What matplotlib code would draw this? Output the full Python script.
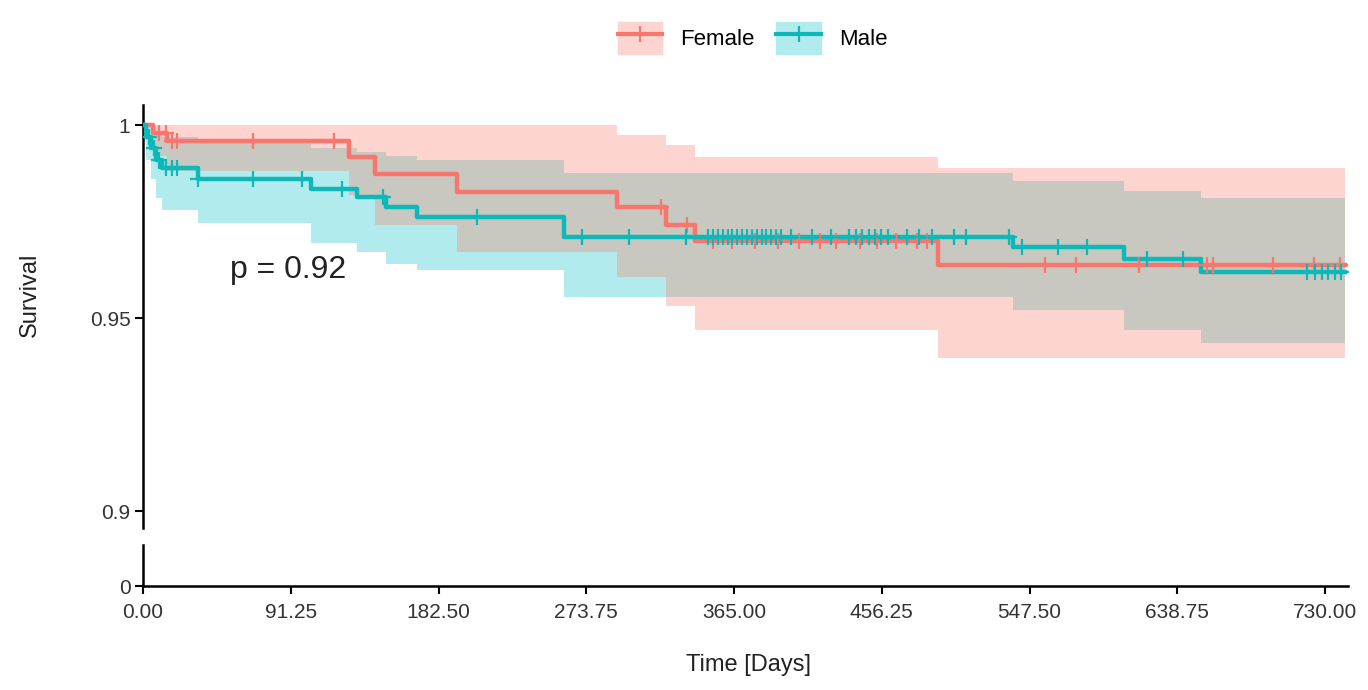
import matplotlib
matplotlib.use('Agg')
import matplotlib.pyplot as plt
from matplotlib.patches import Patch
from matplotlib.lines import Line2D
from matplotlib.legend_handler import HandlerTuple
import numpy as np

plt.rcParams['font.family'] = ['Liberation Sans', 'DejaVu Sans']

# Kaplan-Meier steps
t_end = 742
f_t = [0, 6, 15, 127, 143, 194, 293, 323, 341, 491]
f_s = [1.0, 0.998, 0.996, 0.9918, 0.9873, 0.9827, 0.9787, 0.974, 0.970, 0.9637]
f_up = [1.0, 1.0, 1.0, 1.0, 1.0, 1.0, 0.9974, 0.9948, 0.9917, 0.9889]
f_lo = [1.0, 0.992, 0.988, 0.982, 0.974, 0.967, 0.9606, 0.953, 0.947, 0.9396]

m_t = [0, 2, 5, 8, 12, 34, 104, 132, 150, 169, 260, 537, 606, 653]
m_s = [1.0, 0.997, 0.994, 0.991, 0.9889, 0.986, 0.9834, 0.9814, 0.9788, 0.9761,
       0.9711, 0.9685, 0.9653, 0.962]
m_up = [1.0, 1.0, 0.999, 0.998, 0.997, 0.9955, 0.994, 0.993, 0.992, 0.991,
        0.9877, 0.9855, 0.983, 0.981]
m_lo = [1.0, 0.991, 0.986, 0.981, 0.978, 0.9746, 0.9694, 0.967, 0.964, 0.9624,
        0.9555, 0.952, 0.947, 0.9435]

# censoring times
f_cens = [10, 14, 18, 21, 68, 118, 320, 336, 352, 364, 378, 392, 405, 418, 428,
          443, 453, 465, 478, 484, 557, 576, 615, 657, 661, 698, 723, 739]
m_cens = [4, 7, 10, 14, 18, 21, 34, 68, 98, 123, 148, 206, 271, 300, 335,
          349, 352, 355, 358, 361, 364, 367, 370, 373, 376, 379, 382, 385, 388,
          391, 394, 400, 413, 425, 436, 440, 444, 448, 452, 456, 460, 472, 479,
          487, 501, 508, 535, 543, 565, 583, 620, 642, 719, 724, 728, 732, 736, 740]

x_ticks = [0, 91.25, 182.5, 273.75, 365, 456.25, 547.5, 638.75, 730]
p_text = 'p = 0.92'

red = '#F8766D'
teal = '#0DB9B8'
pink_fill = '#FDD4D0'
teal_fill = '#B2EBED'
over_fill = '#C8C8C0'


def ext(t, v):
    return np.append(t, t_end), np.append(v, v[-1])


def at(t, v, q):
    idx = np.searchsorted(t, q, side='right') - 1
    return np.asarray(v)[idx]


fig = plt.figure(figsize=(13.68, 6.9), dpi=100)
ax = fig.add_axes([0.1045, 0.2348, 0.8808, 0.613])
ax2 = fig.add_axes([0.1045, 0.1507, 0.8808, 0.0594], sharex=ax)

# confidence bands
tt, lo = ext(f_t, f_lo)
_, up = ext(f_t, f_up)
ax.fill_between(tt, lo, up, step='post', color=pink_fill, lw=0)
tt, lo = ext(m_t, m_lo)
_, up = ext(m_t, m_up)
ax.fill_between(tt, lo, up, step='post', color=teal_fill, lw=0)

# overlap of the two bands
grid = np.union1d(f_t, m_t)
ov_lo = np.maximum(at(f_t, f_lo, grid), at(m_t, m_lo, grid))
ov_up = np.minimum(at(f_t, f_up, grid), at(m_t, m_up, grid))
ov_up = np.maximum(ov_up, ov_lo)
g, ol = ext(grid, ov_lo)
_, ou = ext(grid, ov_up)
ax.fill_between(g, ol, ou, step='post', color=over_fill, lw=0)

# curves
for t, s, cens, c in [(f_t, f_s, f_cens, red), (m_t, m_s, m_cens, teal)]:
    tt, ss = ext(t, s)
    ax.step(tt, ss, where='post', color=c, lw=3.2, zorder=3)
    ax.plot(cens, at(t, s, cens), ls='none', marker='+', ms=11, mew=1.6,
            color=c, zorder=4)

ax.text(54, 0.9624, p_text, fontsize=23, ha='left', va='center', color='#222222')

ax.set_xlim(0, 744)
ax.set_ylim(0.8956, 1.0052)
ax.set_yticks([0.9, 0.95, 1])
ax.set_yticklabels(['0.9', '0.95', '1'])
ax2.set_ylim(0, 0.01)
ax2.set_yticks([0])
ax2.set_yticklabels(['0'])
ax2.set_xticks(x_ticks)
ax2.set_xticklabels([f'{v:.2f}' for v in x_ticks])

for a in (ax, ax2):
    for side in ['top', 'right']:
        a.spines[side].set_visible(False)
    a.spines['left'].set_linewidth(1.8)
    a.spines['bottom'].set_linewidth(1.8)
    a.tick_params(width=1.5, length=6, labelsize=15, labelcolor='#333333')
    a.tick_params(axis='y', pad=3)
    a.tick_params(axis='x', pad=6)
ax.spines['bottom'].set_visible(False)
ax.tick_params(axis='x', bottom=False, labelbottom=False)

fig.text(30 / 1368, 1 - 295 / 690, 'Survival', rotation=90, fontsize=17,
         ha='center', va='center', color='#222222')
fig.text(748 / 1368, 1 - 665 / 690, 'Time [Days]', fontsize=17,
         ha='center', va='center', color='#222222')

handles = [(Patch(color=pink_fill), Line2D([], [], color=red, lw=3, marker='+', ms=11, mew=1.6)),
           (Patch(color=teal_fill), Line2D([], [], color=teal, lw=3, marker='+', ms=11, mew=1.6))]
fig.legend(handles, ['Female', 'Male'], handler_map={tuple: HandlerTuple(ndivide=1)},
           loc='center', bbox_to_anchor=(0.55, 0.945), ncol=2, frameon=False,
           fontsize=16, handlelength=2.0, handleheight=1.8, handletextpad=0.8,
           columnspacing=1.0)

fig.savefig('out.png', dpi=100)
